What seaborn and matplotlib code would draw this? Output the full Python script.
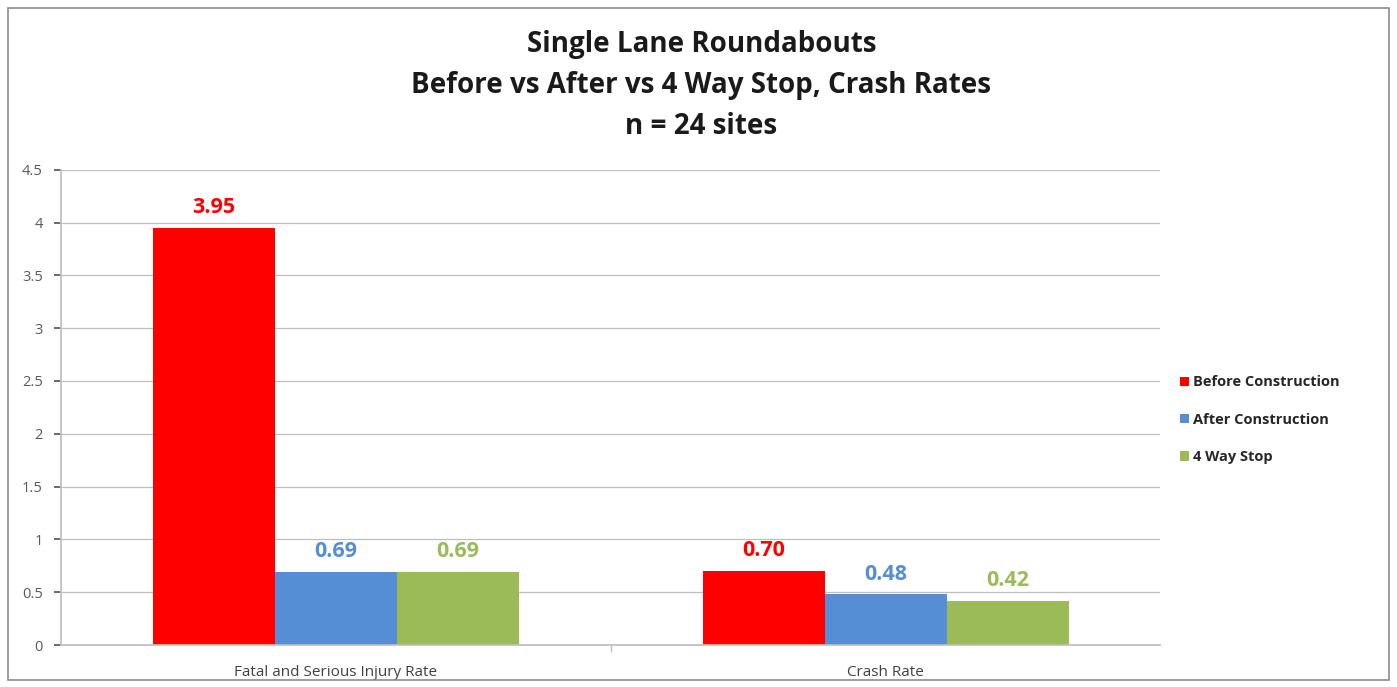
import pandas as pd
import matplotlib.pyplot as plt
import seaborn as sns
from matplotlib.patches import Rectangle

categories = ['Fatal and Serious Injury Rate', 'Crash Rate']
series = ['Before Construction', 'After Construction', '4 Way Stop']
before = [3.95, 0.70]
after = [0.69, 0.48]
four_way = [0.69, 0.42]
colors = ['#FF0000', '#558ED5', '#9BBB59']


def PlotCrashRates():
    sns.set_theme(style='white')
    plt.rcParams['font.family'] = ['Open Sans', 'DejaVu Sans']
    data = pd.DataFrame({
        'Category': categories * 3,
        'Series': [series[0]] * 2 + [series[1]] * 2 + [series[2]] * 2,
        'Rate': before + after + four_way,
    })

    fig = plt.figure(figsize=(13.97, 6.87), dpi=100)
    ax = fig.add_axes([0.0437, 0.061, 0.787, 0.692])
    sns.barplot(data=data, x='Category', y='Rate', hue='Series',
                palette=colors, width=0.666, saturation=1, linewidth=0,
                ax=ax)

    # data labels
    for container, col in zip(ax.containers, colors):
        labels = [f'{v:.2f}' for v in container.datavalues]
        ax.bar_label(container, labels=labels, padding=7, color=col,
                     fontsize=15.5, fontweight='bold')

    ax.set_ylim(0, 4.5)
    ax.set_yticks([0, 0.5, 1, 1.5, 2, 2.5, 3, 3.5, 4, 4.5])
    ax.set_yticklabels(['0', '0.5', '1', '1.5', '2', '2.5', '3', '3.5', '4', '4.5'])
    ax.yaxis.grid(True, color='#BFBFBF', linewidth=0.9)
    ax.set_axisbelow(True)
    ax.set_xlim(-0.5, 1.5)
    ax.set_xlabel('')
    ax.set_ylabel('')
    ax.tick_params(axis='y', labelsize=10.5, colors='#595959', length=5,
                   left=True, direction='out', pad=8)
    ax.tick_params(axis='x', labelsize=11, colors='#404040', length=0, pad=14)
    ax.set_xticks([0.5], minor=True)
    ax.tick_params(axis='x', which='minor', length=5, bottom=True,
                   color='#BFBFBF')
    for s in ['top', 'right']:
        ax.spines[s].set_visible(False)
    ax.spines['left'].set_color('#BFBFBF')
    ax.spines['bottom'].set_color('#BFBFBF')

    ax.legend(loc='center left', bbox_to_anchor=(1.006, 0.474), frameon=False,
              prop={'size': 10.5, 'weight': 'bold'}, handlelength=0.6,
              handleheight=0.6, handletextpad=0.3, labelspacing=1.6,
              labelcolor='#262626')

    fig.text(0.502, 0.876, 'Single Lane Roundabouts\nBefore vs After vs 4 Way Stop, Crash Rates\nn = 24 sites',
             ha='center', va='center', fontsize=20, fontweight='bold',
             linespacing=1.55, color='#1A1A1A')

    fig.patches.append(Rectangle((0.006, 0.01), 0.988, 0.978,
                                 transform=fig.transFigure, fill=False,
                                 edgecolor='#8C8C8C', linewidth=1.2))
    plt.savefig('out.png', dpi=100)


def main():
    PlotCrashRates()


if __name__ == '__main__':
    main()
